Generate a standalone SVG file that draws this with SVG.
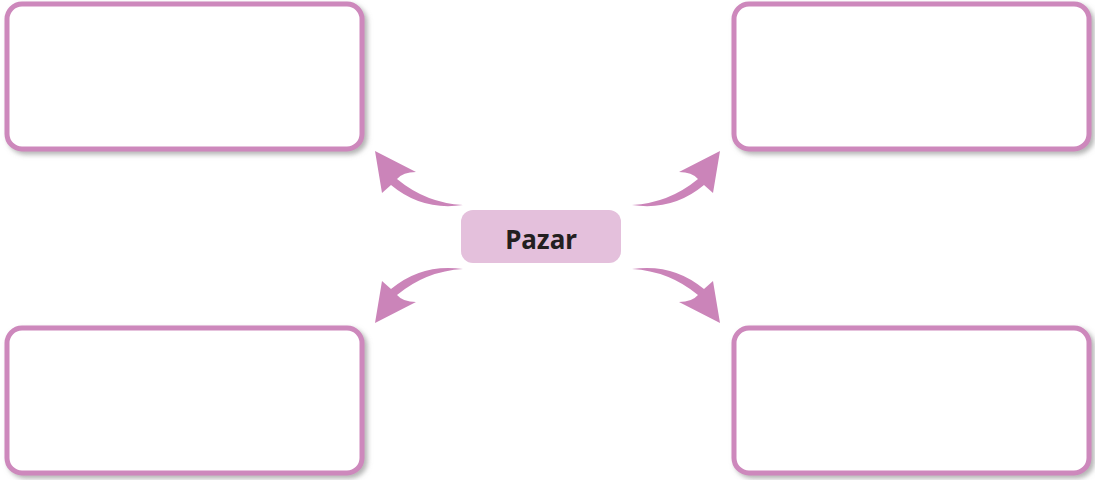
<svg xmlns="http://www.w3.org/2000/svg" width="1095" height="480" viewBox="0 0 1095 480">
<style>
.box{fill:#fff;stroke:#cd88bc;stroke-width:5;filter:url(#sh)}
.arr{fill:#cb84b9}
.lbl{font-family:"Noto Sans","DejaVu Sans",sans-serif;font-weight:bold;font-size:26px;fill:#231f20;text-anchor:middle}
</style>
<defs>
<filter id="sh" x="-10%" y="-10%" width="120%" height="130%">
<feDropShadow dx="3" dy="3" stdDeviation="2.5" flood-color="#808080" flood-opacity="0.6"/>
</filter>
<path id="a" d="M375,151 L416,172 Q403,172 397,179 Q426,203 463,205 Q422,211 391,185 L382,193 Z"/>
</defs>
<g id="box-tl"><rect class="box" x="7" y="4" width="355" height="145" rx="15"/></g>
<g id="box-tr"><rect class="box" x="734" y="4" width="355" height="145" rx="15"/></g>
<g id="box-bl"><rect class="box" x="7" y="328" width="355" height="145" rx="15"/></g>
<g id="box-br"><rect class="box" x="734" y="328" width="355" height="145" rx="15"/></g>
<g id="center"><rect x="461" y="210" width="160" height="53" rx="12" fill="#e4c0dc"/><text class="lbl" x="541" y="249">Pazar</text></g>
<g id="connectors">
<use href="#a" class="arr"/>
<use href="#a" class="arr" transform="translate(1095,0) scale(-1,1)"/>
<use href="#a" class="arr" transform="translate(0,474) scale(1,-1)"/>
<use href="#a" class="arr" transform="translate(1095,474) scale(-1,-1)"/>
</g>
</svg>
